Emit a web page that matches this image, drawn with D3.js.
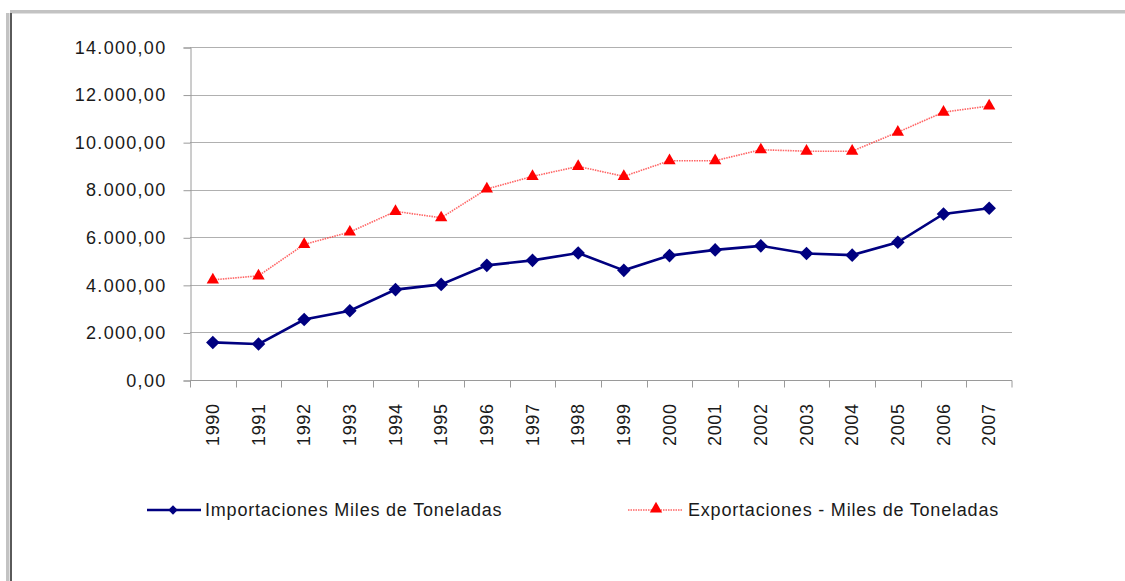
<!DOCTYPE html>
<html>
<head>
<meta charset="utf-8">
<script src="https://cdn.jsdelivr.net/npm/d3@7"></script>
<style>
  body { margin: 0; background: #fff; }
  svg text { font-family: "Liberation Sans", Arial, sans-serif; fill: #1a1a1a; }
</style>
</head>
<body>
<div id="chart"></div>
<script>
var years = ["1990","1991","1992","1993","1994","1995","1996","1997","1998",
             "1999","2000","2001","2002","2003","2004","2005","2006","2007"];

var importaciones = [1580, 1510, 2540, 2910, 3800, 4020, 4820, 5030, 5340,
                     4610, 5230, 5470, 5640, 5320, 5250, 5790, 6980, 7220];

var exportaciones = [4210, 4380, 5700, 6220, 7090, 6820, 8030, 8560, 8980,
                     8560, 9220, 9220, 9680, 9620, 9620, 10420, 11260, 11520];

var yTicks = [0, 2000, 4000, 6000, 8000, 10000, 12000, 14000];

var seriesNames = ["Importaciones Miles de Toneladas", "Exportaciones - Miles de Toneladas"];

var width = 1125,
    height = 581;

var svg = d3.select("#chart").append("svg")
    .attr("width", width)
    .attr("height", height);

// frame of the original sheet
svg.append("rect").attr("x", 10).attr("y", 10).attr("width", width - 10).attr("height", 3.5).attr("fill", "#c3c3c3");
svg.append("rect").attr("x", 6).attr("y", 13).attr("width", 3.5).attr("height", height).attr("fill", "#c3c3c3");
svg.append("rect").attr("x", 10).attr("y", 13).attr("width", 2).attr("height", height).attr("fill", "#5a5a5a");

var x = d3.scaleBand()
    .domain(years)
    .range([190, 1012])
    .padding(0);

var y = d3.scaleLinear()
    .domain([0, 14000])
    .range([380, 47]);

var es = d3.formatLocale({decimal: ",", thousands: ".", grouping: [3], currency: ["", ""]});
var fmt = es.format(",.2f");

// gridlines
svg.append("g")
  .selectAll("line")
  .data(yTicks.slice(1))
  .enter().append("line")
    .attr("x1", 190).attr("x2", 1012)
    .attr("y1", function(d) { return Math.round(y(d)) + 0.5; })
    .attr("y2", function(d) { return Math.round(y(d)) + 0.5; })
    .attr("stroke", "#b0b0b0")
    .attr("stroke-width", 1);

// y axis
var yAxis = svg.append("g")
    .attr("transform", "translate(190.5,0.5)")
    .call(d3.axisLeft(y).tickValues(yTicks).tickFormat(fmt).tickSize(7).tickPadding(17));
yAxis.select(".domain").attr("stroke", "#9a9a9a");
yAxis.selectAll(".tick line").attr("stroke", "#9a9a9a");
yAxis.selectAll("text")
    .style("font-size", "18px")
    .style("letter-spacing", "1.3px")
    .attr("fill", "#1a1a1a");

// x axis
var xAxis = svg.append("g")
    .attr("transform", "translate(0," + (Math.round(y(0)) + 0.5) + ")");
xAxis.append("line")
    .attr("x1", 190).attr("x2", 1012)
    .attr("stroke", "#9a9a9a");
xAxis.selectAll("line.tk")
    .data(years.concat(["end"]))
    .enter().append("line")
    .attr("class", "tk")
    .attr("x1", function(d) { return d === "end" ? 1012 : Math.round(x(d)) + 0.5; })
    .attr("x2", function(d) { return d === "end" ? 1012 : Math.round(x(d)) + 0.5; })
    .attr("y1", 0).attr("y2", 7)
    .attr("stroke", "#9a9a9a");
xAxis.selectAll("text")
    .data(years)
    .enter().append("text")
    .attr("transform", function(d) {
        return "translate(" + (x(d) + x.bandwidth() / 2 + 6) + ",23) rotate(-90)";
    })
    .attr("text-anchor", "end")
    .style("font-size", "18px")
    .style("letter-spacing", "0.6px")
    .text(function(d) { return d; });

var cx = function(d, i) { return x(years[i]) + x.bandwidth() / 2; };

var line = d3.line()
    .x(function(d, i) { return cx(d, i); })
    .y(function(d) { return y(d); });

// exportaciones
svg.append("path")
    .datum(exportaciones)
    .attr("d", line)
    .attr("fill", "none")
    .attr("stroke", "#ff3030")
    .attr("stroke-width", 1.6)
    .attr("stroke-dasharray", "1.5,1")
    .attr("opacity", 0.75);

var tri = d3.symbol().type(d3.symbolTriangle).size(66);
svg.append("g")
  .selectAll("path")
  .data(exportaciones)
  .enter().append("path")
    .attr("d", tri)
    .attr("transform", function(d, i) { return "translate(" + cx(d, i) + "," + y(d) + ")"; })
    .attr("fill", "#ff0000");

// importaciones
svg.append("path")
    .datum(importaciones)
    .attr("d", line)
    .attr("fill", "none")
    .attr("stroke", "#000080")
    .attr("stroke-width", 2.6);

var diamond = d3.symbol().type(d3.symbolSquare).size(92);
svg.append("g")
  .selectAll("path")
  .data(importaciones)
  .enter().append("path")
    .attr("d", diamond)
    .attr("transform", function(d, i) { return "translate(" + cx(d, i) + "," + y(d) + ") rotate(45)"; })
    .attr("fill", "#000080");

// legend
var lg = svg.append("g");
lg.append("line").attr("x1", 147).attr("x2", 201).attr("y1", 510).attr("y2", 510)
    .attr("stroke", "#000080").attr("stroke-width", 2.6);
lg.append("path").attr("d", d3.symbol().type(d3.symbolSquare).size(44))
    .attr("transform", "translate(173,510) rotate(45)").attr("fill", "#000080");
lg.append("text").attr("x", 205).attr("y", 516)
    .style("font-size", "18px").style("letter-spacing", "0.8px")
    .text(seriesNames[0]);

lg.append("line").attr("x1", 628).attr("x2", 682).attr("y1", 510).attr("y2", 510)
    .attr("stroke", "#ff3030").attr("stroke-width", 1.6)
    .attr("stroke-dasharray", "1.5,1").attr("opacity", 0.75);
lg.append("path").attr("d", tri)
    .attr("transform", "translate(656,509)").attr("fill", "#ff0000");
lg.append("text").attr("x", 688).attr("y", 516)
    .style("font-size", "18px").style("letter-spacing", "0.8px")
    .text(seriesNames[1]);
</script>
</body>
</html>
